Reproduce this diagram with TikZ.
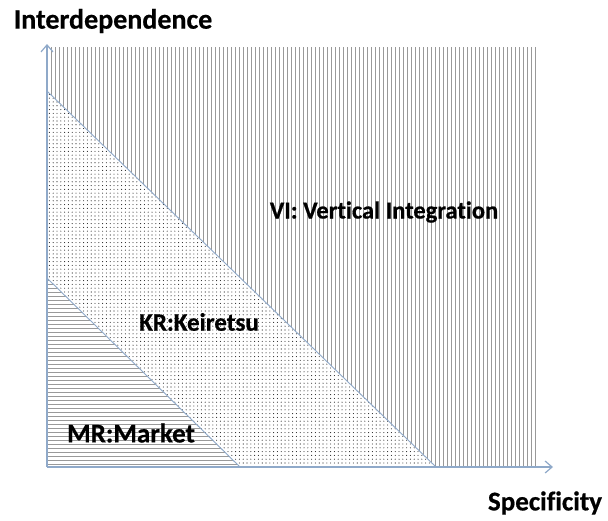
\documentclass[tikz,border=0pt]{standalone}
\usepackage{fontspec}
\setmainfont{Carlito}[RawFeature=-liga, BoldFeatures={FakeBold=0.6}]
\usetikzlibrary{arrows.meta,patterns.meta}
\definecolor{axisblue}{HTML}{8FA9C9}
\definecolor{hatch}{HTML}{999999}
\tikzset{
  lbl/.style={font=\fontsize{#1}{#1}\selectfont\bfseries, text=black, inner sep=0pt},
  lbl/.default=27,
  axis/.style={draw=axisblue, line width=1.4pt, -{Straight Barb[length=7pt,width=12pt,line width=1.2pt]}},
  border/.style={draw=axisblue, line width=0.9pt},
}
\begin{document}
\begin{tikzpicture}[x=1pt,y=-1pt]
\useasboundingbox[fill=white] (0,0) rectangle (608,520);
% key points
\coordinate (O) at (47,467);
\coordinate (Ytop) at (47,44);
\coordinate (Xend) at (553,467);
\coordinate (A) at (47,91);
\coordinate (B) at (436,467);
\coordinate (C) at (47,278);
\coordinate (D) at (240,467);
% VI region: vertical hatch
\begin{scope}
  \clip (47,47) -- (536,47) -- (536,467) -- (B) -- (A) -- cycle;
  \foreach \x in {51,55,...,536} \draw[hatch, line width=0.8pt] (\x,47) -- (\x,467);
\end{scope}
% MR region: horizontal hatch
\begin{scope}
  \clip (C) -- (D) -- (O) -- cycle;
  \foreach \y in {280,284,...,467} \draw[hatch, line width=0.8pt] (47,\y) -- (240,\y);
\end{scope}
% KR region: dots
\fill[pattern={Dots[distance=3.8pt, radius=0.55pt]}, pattern color=black!85] (A) -- (B) -- (D) -- (C) -- cycle;
% boundaries
\draw[border] (A) -- (B);
\draw[border] (C) -- (D);
% axes
\draw[axis] (O) -- (Ytop);
\draw[axis] (O) -- (Xend);
% labels
\node[lbl=28] (ylab) at (113,21) {Interdependence};
\node[lbl=27] (xlab) at (545,503) {Specificity};
\node[lbl=24.5] (vi) at (384,212) {VI: Vertical Integration};
\node[lbl=25] (kr) at (199,322) {KR:Keiretsu};
\node[lbl=27] (mr) at (131,433) {MR:Market};
\end{tikzpicture}
\end{document}
